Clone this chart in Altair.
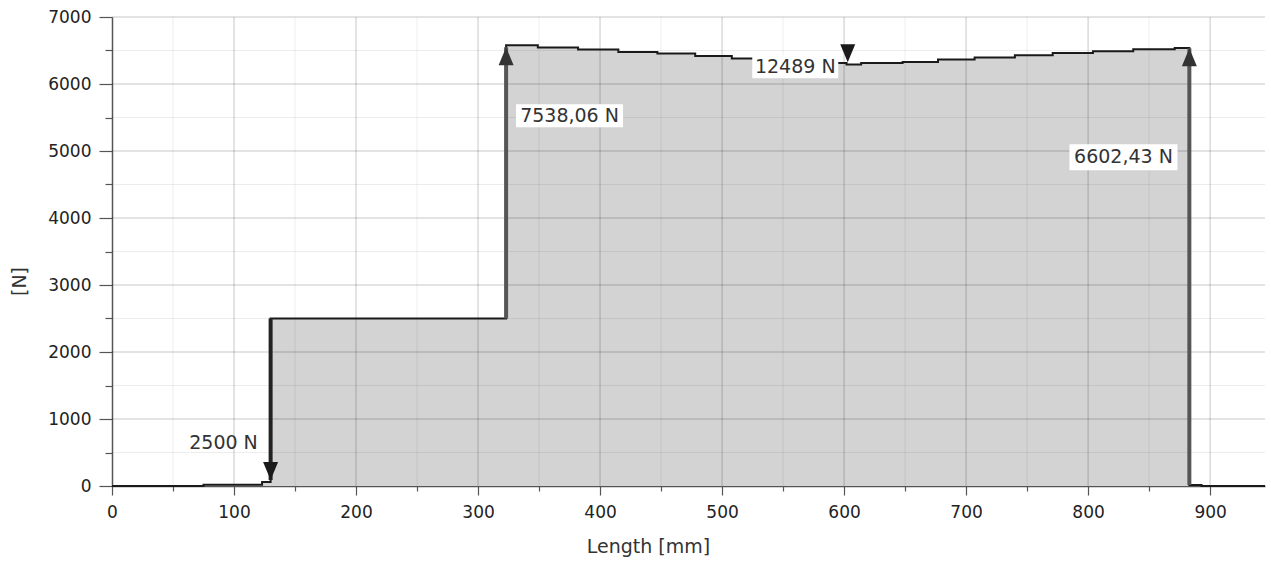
import altair as alt
import pandas as pd

# ---- data ----
step_x = [0, 75, 123, 130, 323, 349, 382, 415, 447, 478, 508, 540, 571, 602,
          614, 648, 677, 707, 740, 771, 804, 837, 871, 883, 893, 945]
step_y = [0, 20, 60, 2500, 6578, 6544, 6514, 6478, 6454, 6419, 6380, 6350, 6314, 6290,
          6314, 6329, 6365, 6395, 6429, 6463, 6489, 6518, 6538, 15, 0, 0]

x_major = [0, 100, 200, 300, 400, 500, 600, 700, 800, 900]
x_minor = [50, 150, 250, 350, 450, 550, 650, 750, 850]
y_major = [0, 1000, 2000, 3000, 4000, 5000, 6000, 7000]
y_minor = [500, 1500, 2500, 3500, 4500, 5500, 6500]
x_ticks = sorted(x_major + x_minor)
y_ticks = sorted(y_major + y_minor)

ann_text = ["2500 N", "7538,06 N", "12489 N", "6602,43 N"]
ann_x = [91.4, 375, 560, 829]
ann_y = [649, 5527, 6257, 4907]

arrow_x = [130, 323, 883]
arrow_from = [2500, 2500, 15]
arrow_tip = [90, 6548, 6533]
head_x = [130, 323, 603, 883]
head_y = [90, 6548, 6325, 6533]
head_dir = ["down", "up", "down", "up"]

FONT = "DejaVu Sans"

xs = alt.Scale(domain=[0, 945], nice=False, zero=False)
ys = alt.Scale(domain=[0, 7000], nice=False, zero=False)

x_axis = alt.Axis(
    values=x_ticks, format="d",
    labelExpr="datum.value % 100 === 0 ? datum.label : ''",
    tickSize={"condition": {"test": "datum.value % 100 === 0", "value": 9}, "value": 5},
    grid=False, domainColor="#555", domainWidth=1.5, tickColor="#555", tickWidth=1.2,
    labelFont=FONT, labelFontSize=17, labelColor="#222", labelPadding=9, labelFlush=False,
    title="Length [mm]", titleFont=FONT, titleFontSize=19, titleFontWeight="normal",
    titleColor="#333", titleX=536, titleY=60, titleAlign="center", titleBaseline="middle",
)
y_axis = alt.Axis(
    values=y_ticks, format="d",
    labelExpr="datum.value % 1000 === 0 ? datum.label : ''",
    tickSize={"condition": {"test": "datum.value % 1000 === 0", "value": 13}, "value": 7},
    grid=False, domainColor="#555", domainWidth=1.5, tickColor="#555", tickWidth=1.2,
    labelFont=FONT, labelFontSize=17, labelColor="#222", labelPadding=8, labelFlush=False,
    title="[N]", titleFont=FONT, titleFontSize=19, titleFontWeight="normal",
    titleColor="#333", titleX=-93, titleY=264, titleAngle=270, titleAlign="center",
    titleBaseline="middle",
)


def X(f):
    return alt.X(f, scale=xs, axis=x_axis, title="Length [mm]")


def Y(f):
    return alt.Y(f, scale=ys, axis=y_axis, title="[N]")


profile = pd.DataFrame({"x": step_x, "y": step_y})

area = alt.Chart(profile).mark_area(interpolate="step-after", color="#d3d3d3", opacity=1).encode(
    x=X("x:Q"), y=Y("y:Q"))

line = alt.Chart(profile).mark_line(interpolate="step-after", color="#1a1a1a", strokeWidth=2).encode(
    x=X("x:Q"), y=Y("y:Q"))


def vgrid(vals, op):
    return alt.Chart(pd.DataFrame({"x": vals})).mark_rule(color="black", opacity=op, strokeWidth=1).encode(
        x=X("x:Q"))


def hgrid(vals, op):
    return alt.Chart(pd.DataFrame({"y": vals})).mark_rule(color="black", opacity=op, strokeWidth=1).encode(
        y=Y("y:Q"))


grids = [vgrid(x_minor, 0.07), hgrid(y_minor, 0.07), vgrid(x_major[1:], 0.22), hgrid(y_major[1:], 0.22)]

shafts_df = pd.DataFrame({"x": arrow_x, "y": arrow_from, "y2": arrow_tip,
                          "c": ["#222", "#555", "#555"]})
shafts = alt.Chart(shafts_df).mark_rule(strokeWidth=4).encode(
    x=X("x:Q"), y=Y("y:Q"), y2="y2:Q",
    color=alt.Color("c:N", scale=None),
)

heads_df = pd.DataFrame({"x": head_x, "y": head_y, "d": head_dir})
up_path = "M0,0L1,2.4L-1,2.4Z"
down_path = "M0,0L1,-2.4L-1,-2.4Z"
heads_up = alt.Chart(heads_df).transform_filter("datum.d === 'up'").mark_point(
    shape=up_path, size=225, filled=True, color="#333", opacity=1, strokeWidth=0).encode(
    x=X("x:Q"), y=Y("y:Q"))
heads_down = alt.Chart(heads_df).transform_filter("datum.d === 'down'").mark_point(
    shape=down_path, size=225, filled=True, color="#1a1a1a", opacity=1, strokeWidth=0).encode(
    x=X("x:Q"), y=Y("y:Q"))

ann_df = pd.DataFrame({"t": ann_text, "x": ann_x, "y": ann_y})
box_w = [0, 107, 86, 108]
box_h = [0, 23, 23, 26]
boxes = []
for i in range(1, 4):
    boxes.append(
        alt.Chart(ann_df.iloc[[i]]).mark_rect(width=box_w[i], height=box_h[i], color="white", opacity=1).encode(
            x=X("x:Q"), y=Y("y:Q"))
    )
texts = alt.Chart(ann_df).mark_text(font=FONT, fontSize=19, color="#333", align="center",
                                     baseline="middle").encode(
    x=X("x:Q"), y=Y("y:Q"), text="t:N")

chart = alt.layer(area, *grids, line, shafts, heads_up, heads_down, *boxes, texts).properties(
    width=1153, height=469,
    padding={"left": 112, "top": 17, "right": 6, "bottom": 77},
    autosize=alt.AutoSizeParams(type="none"),
    background="white",
).configure_view(stroke=None)

chart.save("out.html", embed_options={"renderer": "svg", "actions": False})
